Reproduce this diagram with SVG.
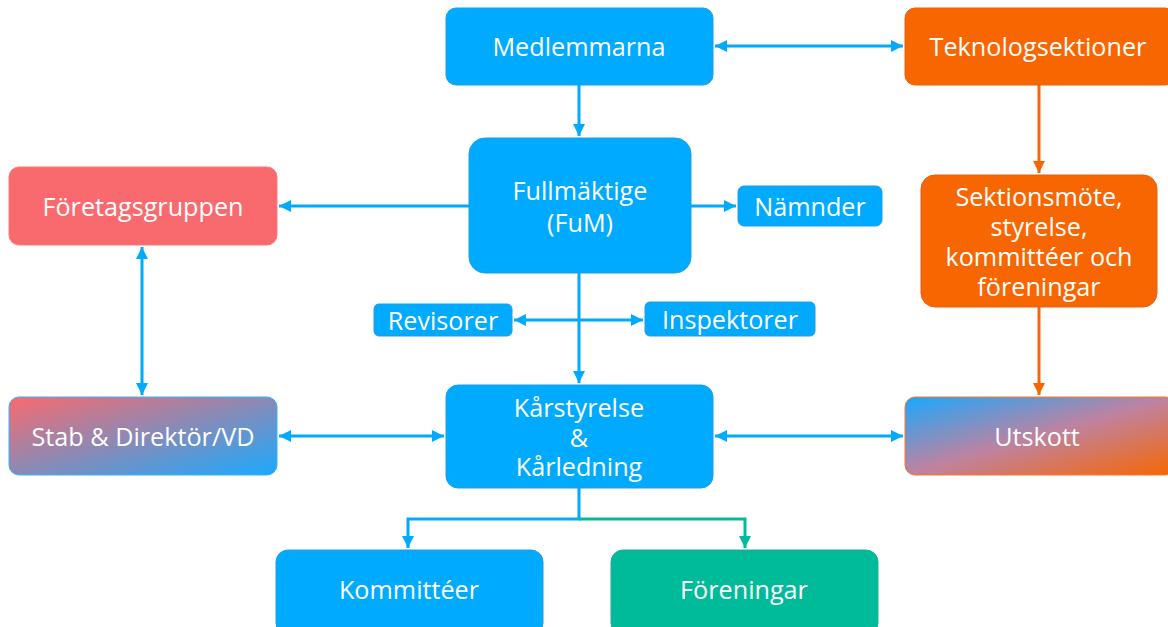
<svg xmlns="http://www.w3.org/2000/svg" width="1168" height="627" viewBox="0 0 1168 627">
<style>
.t{font-family:"Open Sans","Noto Sans","Liberation Sans",sans-serif;font-size:25.2px;fill:#fff;text-anchor:middle;dominant-baseline:central}
.b{fill:#00AAFF;stroke:#1AA0E6;stroke-width:1}
.o{fill:#F76600;stroke:#E86010;stroke-width:1}
.c{fill:none;stroke:#00AAFF;stroke-width:3}
.co{fill:none;stroke:#F76600;stroke-width:3}
.cg{fill:none;stroke:#00BB99;stroke-width:3}
</style>
<defs>
<marker id="ab" viewBox="0 0 10 10" refX="10" refY="5" markerWidth="4" markerHeight="4" markerUnits="strokeWidth" orient="auto-start-reverse"><path d="M0,0L10,5L0,10z" fill="#00AAFF"/></marker>
<marker id="ao" viewBox="0 0 10 10" refX="10" refY="5" markerWidth="4" markerHeight="4" markerUnits="strokeWidth" orient="auto-start-reverse"><path d="M0,0L10,5L0,10z" fill="#F76600"/></marker>
<marker id="ag" viewBox="0 0 10 10" refX="10" refY="5" markerWidth="4" markerHeight="4" markerUnits="strokeWidth" orient="auto-start-reverse"><path d="M0,0L10,5L0,10z" fill="#00BB99"/></marker>
<linearGradient id="gs" x1="0" y1="0" x2="1" y2="1"><stop offset="0" stop-color="#F96A6F"/><stop offset="1" stop-color="#1AAAFF"/></linearGradient>
<linearGradient id="gu" x1="0" y1="0" x2="1" y2="1"><stop offset="0" stop-color="#1AA8FF"/><stop offset="0.5" stop-color="#C0829F"/><stop offset="1" stop-color="#F76600"/></linearGradient>
</defs>
<g id="connectors">
<path class="c" d="M715,46H903" marker-start="url(#ab)" marker-end="url(#ab)"/>
<path class="c" d="M579,85V136" marker-end="url(#ab)"/>
<path class="co" d="M1039,85V173" marker-end="url(#ao)"/>
<path class="c" d="M469,206H279" marker-end="url(#ab)"/>
<path class="c" d="M691,206H736" marker-end="url(#ab)"/>
<path class="c" d="M579,273V383" marker-end="url(#ab)"/>
<path class="c" d="M514,320H643" marker-start="url(#ab)" marker-end="url(#ab)"/>
<path class="c" d="M142,247V395" marker-start="url(#ab)" marker-end="url(#ab)"/>
<path class="c" d="M279,436H444" marker-start="url(#ab)" marker-end="url(#ab)"/>
<path class="c" d="M715,436H903" marker-start="url(#ab)" marker-end="url(#ab)"/>
<path class="co" d="M1039,307V395" marker-end="url(#ao)"/>
<path class="c" d="M579,488V519H408V548" marker-end="url(#ab)"/>
<path class="cg" d="M579,519H745V548" marker-end="url(#ag)"/>
</g>
<g id="medlemmarna"><rect class="b" x="446" y="8" width="267" height="77" rx="10"/><text class="t" x="579" y="46">Medlemmarna</text></g>
<g id="teknologsektioner"><rect class="o" x="905" y="8" width="270" height="77" rx="10"/><text class="t" x="1038" y="46">Teknologsektioner</text></g>
<g id="fullmaktige"><rect class="b" x="469" y="138" width="222" height="135" rx="16"/><text class="t" x="580" y="190">Fullmäktige</text><text class="t" x="580" y="222">(FuM)</text></g>
<g id="foretagsgruppen"><rect x="9" y="167" width="268" height="78" rx="10" fill="#F96A6F" stroke="#F47A80"/><text class="t" x="143" y="206">Företagsgruppen</text></g>
<g id="namnder"><rect class="b" x="738" y="186" width="144" height="40" rx="6"/><text class="t" x="810" y="206">Nämnder</text></g>
<g id="sektionsmote"><rect class="o" x="921" y="175" width="236" height="132" rx="14"/><text class="t" x="1039" y="196">Sektionsmöte,</text><text class="t" x="1039" y="226">styrelse,</text><text class="t" x="1039" y="256">kommittéer och</text><text class="t" x="1039" y="286">föreningar</text></g>
<g id="revisorer"><rect class="b" x="374" y="304" width="138" height="32" rx="5"/><text class="t" x="443" y="320">Revisorer</text></g>
<g id="inspektorer"><rect class="b" x="645" y="302" width="170" height="34" rx="5"/><text class="t" x="730" y="319">Inspektorer</text></g>
<g id="stab"><rect x="9" y="397" width="268" height="78" rx="10" fill="url(#gs)" stroke="#40B0F0"/><text class="t" x="143" y="436">Stab &amp; Direktör/VD</text></g>
<g id="karstyrelse"><rect class="b" x="446" y="385" width="267" height="103" rx="12"/><text class="t" x="579" y="407">Kårstyrelse</text><text class="t" x="579" y="437">&amp;</text><text class="t" x="579" y="466">Kårledning</text></g>
<g id="utskott"><rect x="905" y="397" width="270" height="78" rx="10" fill="url(#gu)" stroke="#F07A30"/><text class="t" x="1037" y="436">Utskott</text></g>
<g id="kommitteer"><rect class="b" x="276" y="550" width="267" height="85" rx="12"/><text class="t" x="409" y="589">Kommittéer</text></g>
<g id="foreningar"><rect x="611" y="550" width="267" height="85" rx="12" fill="#00BB99" stroke="#20B090"/><text class="t" x="744" y="589">Föreningar</text></g>
</svg>
